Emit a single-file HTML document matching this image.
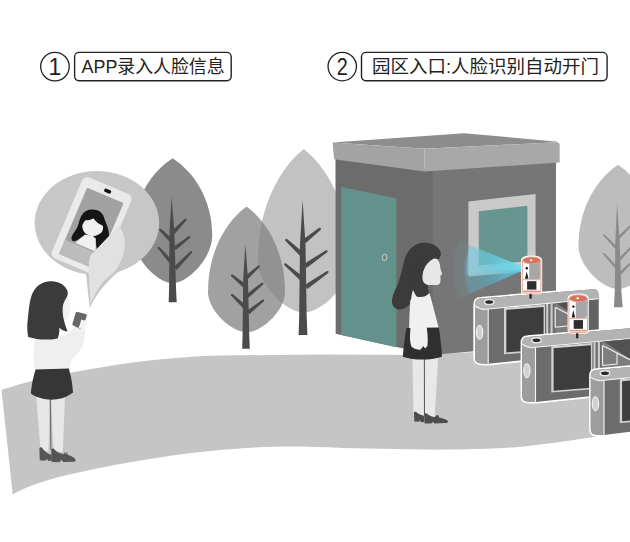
<!DOCTYPE html>
<html lang="zh-CN">
<head>
<meta charset="utf-8">
<title>人脸识别入园流程</title>
<style>
html,body{margin:0;padding:0;background:#fff;}
body{width:630px;height:542px;overflow:hidden;font-family:"Liberation Sans",sans-serif;}
svg{display:block;}
</style>
</head>
<body>
<svg width="630" height="542" viewBox="0 0 630 542" role="img" aria-label="1 APP录入人脸信息; 2 园区入口:人脸识别自动开门"><title>① APP录入人脸信息 ② 园区入口:人脸识别自动开门</title><defs>
 <radialGradient id="cg1" gradientUnits="userSpaceOnUse" cx="527.2" cy="268.5" r="74">
  <stop offset="0" stop-color="#58c4dc" stop-opacity="0.7"/><stop offset="0.55" stop-color="#5cb4cc" stop-opacity="0.2"/><stop offset="1" stop-color="#7ab4c4" stop-opacity="0.1"/>
 </radialGradient>
 <radialGradient id="cg2" gradientUnits="userSpaceOnUse" cx="527.2" cy="268.5" r="63">
  <stop offset="0" stop-color="#5cd0e4" stop-opacity="0.8"/><stop offset="0.6" stop-color="#54b8d4" stop-opacity="0.4"/><stop offset="1" stop-color="#5cb0cc" stop-opacity="0.3"/>
 </radialGradient>
 <radialGradient id="cg3" gradientUnits="userSpaceOnUse" cx="527.2" cy="268.5" r="61">
  <stop offset="0" stop-color="#7ae0f0" stop-opacity="0.9"/><stop offset="0.6" stop-color="#6cd0e4" stop-opacity="0.5"/><stop offset="1" stop-color="#8cd8e8" stop-opacity="0.35"/>
 </radialGradient>
</defs>
<g id="road"><path d="M1.5,390 C30,380 72,371 133,362.4 C165,358.2 192,356.2 222,355.4 L320,354.6 L420,355 L475,352 L630,346 L630,430.6 C605,435 578,439.8 553,443 C525,446.6 505,448.4 487,448.8 C460,449.6 440,449.8 420,449.5 L343,448 C320,447 300,446.4 277,446.7 C255,447.2 235,448.4 210,451 C185,453.6 160,457 133,461.7 C110,465.6 88,470 67,475 C48,479.6 30,485 12.7,494.5 Z" fill="#c5c5c5"/></g>
<g id="trees"><path d="M172.6,158.3C193.2,171.5 212.2,198.7 212.2,236.0C212.2,257.6 188.4,283.0 172.6,283.0C156.8,283.0 133.0,257.6 133.0,236.0C133.0,198.7 152.0,171.5 172.6,158.3Z" fill="#8b8b8b"/><path d="M171.6,197.0L174.4,231.7L176.0,287.6L176.7,302.3L168.7,302.3L169.1,287.6L169.5,231.7Z" fill="#4b4b4b"/><path d="M175.1,233.4L186.4,220.3L186.4,218.6L184.8,218.7L172.1,230.6Z" fill="#4b4b4b"/><path d="M175.9,250.1L190.2,237.7L190.4,236.1L188.8,235.9L173.3,246.9Z" fill="#4b4b4b"/><path d="M176.7,269.9L192.0,252.8L192.0,251.1L190.4,251.2L173.7,267.1Z" fill="#4b4b4b"/><path d="M172.0,238.6L161.0,228.8L159.4,228.8L159.4,230.4L169.2,241.4Z" fill="#4b4b4b"/><path d="M172.1,260.2L159.4,246.9L157.8,246.7L157.8,248.3L169.1,262.8Z" fill="#4b4b4b"/><path d="M303.8,149.0C327.7,168.0 349.8,207.0 349.8,260.5C349.8,284.5 322.2,312.6 303.8,312.6C285.4,312.6 257.8,284.5 257.8,260.5C257.8,207.0 279.9,168.0 303.8,149.0Z" fill="#c2c2c2"/><path d="M246.5,206.5C266.5,221.0 285.0,251.0 285.0,292.0C285.0,310.5 261.9,332.2 246.5,332.2C231.1,332.2 208.0,310.5 208.0,292.0C208.0,251.0 226.5,221.0 246.5,206.5Z" fill="#838383" fill-opacity="0.76"/><path d="M302.6,200.0L305.5,244.6L306.7,316.1L307.4,335.0L298.6,335.0L299.2,316.1L300.0,244.6Z" fill="#4b4b4b"/><path d="M305.8,243.1L320.8,229.8L320.9,228.0L319.2,227.8L303.0,239.5Z" fill="#4b4b4b"/><path d="M306.5,267.9L327.3,252.2L327.6,250.5L325.9,250.2L303.9,264.1Z" fill="#4b4b4b"/><path d="M307.3,288.9L328.3,273.0L328.6,271.3L326.9,271.0L304.7,285.1Z" fill="#4b4b4b"/><path d="M303.1,252.3L287.1,238.9L285.3,239.0L285.3,240.7L299.9,255.7Z" fill="#4b4b4b"/><path d="M303.0,276.8L285.8,263.3L284.1,263.4L284.2,265.1L300.0,280.2Z" fill="#4b4b4b"/><path d="M245.4,244.5L248.0,278.9L249.2,334.2L249.8,348.8L242.2,348.8L242.6,334.2L243.2,278.9Z" fill="#4b4b4b"/><path d="M248.0,278.9L259.8,267.0L260.0,265.4L258.4,265.4L245.2,275.9Z" fill="#4b4b4b"/><path d="M248.8,297.6L263.1,284.5L263.3,282.8L261.7,282.7L246.2,294.4Z" fill="#4b4b4b"/><path d="M249.3,314.2L263.9,301.2L264.1,299.5L262.5,299.4L246.7,311.0Z" fill="#4b4b4b"/><path d="M245.5,284.0L232.6,274.4L231.0,274.5L231.2,276.2L242.9,287.2Z" fill="#4b4b4b"/><path d="M245.6,304.9L232.7,294.0L231.0,294.0L231.1,295.6L242.8,307.9Z" fill="#4b4b4b"/><path d="M618.0,164.8C638.5,178.6 657.5,207.0 657.5,246.0C657.5,265.8 633.8,289.0 618.0,289.0C602.2,289.0 578.5,265.8 578.5,246.0C578.5,207.0 597.5,178.6 618.0,164.8Z" fill="#bdbdbd"/><path d="M617.0,204.0L619.7,241.2L621.4,291.7L622.7,307.2L613.9,307.2L614.8,291.7L615.3,241.2Z" fill="#8a8a8a"/><path d="M617.3,247.0L604.5,234.5L603.1,234.1L603.3,235.5L615.3,249.0Z" fill="#8a8a8a"/><path d="M617.8,267.0L604.5,253.3L603.1,252.9L603.3,254.3L615.6,269.0Z" fill="#8a8a8a"/><path d="M619.8,238.4L631.6,226.0L631.9,224.6L630.4,224.8L617.8,236.4Z" fill="#8a8a8a"/><path d="M620.7,260.4L631.6,247.7L631.8,246.3L630.4,246.7L618.5,258.4Z" fill="#8a8a8a"/><path d="M620.8,274.8L631.6,263.4L631.9,262.0L630.4,262.2L618.8,272.8Z" fill="#8a8a8a"/></g>
<g id="building">
<g>
 <!-- walls -->
 <path d="M335.5,158 L433.4,170 L433.4,355 L335.7,333.7 Z" fill="#6c6c6c"/>
 <path d="M432.6,170 L556,158 L556,344 L432.6,355 Z" fill="#767676"/>
 <!-- door -->
 <path d="M341.2,186.9 L396.4,198.3 L396.4,347.2 L341.2,335 Z" fill="#63928c"/>
 <ellipse cx="384.6" cy="257.4" rx="2.2" ry="3.1" fill="#6f7f7e" stroke="#a9bebb" stroke-width="1.3"/>
 <!-- window -->
 <path d="M468.4,201.5 L535.6,194 L535.6,270.6 L468.4,276.6 Z" fill="#c9c9c9"/>
 <path d="M478.8,211.2 L527.4,205.8 L527.4,261.2 L478.8,265.6 Z" fill="#67958f"/>
 <!-- roof -->
 <path d="M332.6,142.5 L464,133.2 L555.5,141.4 Q558.6,141.8 556.6,142.3 L424.4,148.8 Z" fill="#8d8d8d"/>
 <path d="M332.6,142.5 L424.4,148.8 L424.4,171.4 L334.1,159.3 Z" fill="#a3a3a3"/>
 <path d="M424.4,148.8 L556.6,142.2 Q559.7,142.1 559.7,145.2 L559.7,162.5 L424.4,171.4 Z" fill="#a8a8a8"/>
</g></g>
<g id="bubble">
<g>
 <ellipse cx="96.9" cy="223" rx="62.2" ry="52" fill="#c7c7c7"/>
 <path d="M85.4,268 L89.7,308.2 C95,296.5 103.5,284 119.5,271 Z" fill="#c7c7c7"/>
 <!-- phone -->
 <g transform="translate(84.3,175.3) rotate(23)">
  <rect x="0" y="0" width="53.2" height="88" rx="5.5" fill="#eaeaea"/>
  <rect x="7.4" y="10.2" width="39.6" height="72" rx="1.5" fill="#a2a2a2"/>
  <rect x="24" y="3.6" width="7.4" height="3.6" rx="1.8" fill="#111"/>
 </g>
 <!-- avatar: upright in world space -->
 <path d="M92.4,209.6 C98.6,209.6 102.4,212.6 103.8,217 C105.4,222 107.6,226 108.4,230 C109.3,235 109.5,240 109.1,244 C108.7,247.7 107.3,249.7 105,249.9 L97,249.7 C96.4,246 95.8,243 95.2,240 L82.3,236.4 C79.6,238.6 76.6,240.8 74,241.3 C72,241.1 71.1,239.4 71.6,237 C73,233 76.4,230 77.7,226.6 C79,222.6 79.6,218.6 81.6,215.4 C84,211.4 87.6,209.6 92.4,209.6 Z" fill="#151515"/>
 <path d="M85,234.6 L75.4,243 L95.6,251.6 L95.8,238.6 L92.6,236 Z" fill="#f0f0f0"/>
 <path d="M82.3,225.6 C83,222.6 84.4,221 86,219.9 C88.4,220.6 91.4,219.8 93.4,218.3 C95.6,221.6 99,224.4 102.6,225.4 C103.2,226.6 103.2,227.8 103,229 C102.6,231.4 101.4,232.8 99.8,233.8 C97.4,235.4 95,236.2 92.8,236.2 C90.4,236.2 88,235.2 86,233.7 C84.2,232.4 83.2,230.8 82.8,229 C82.4,227.8 82.2,226.8 82.3,225.6 Z" fill="#f0f0f0"/>
 <!-- lighter lower band of the screen, clips the avatar -->
 <g transform="translate(84.3,175.3) rotate(23)">
  <path d="M7.4,66.8 L47,66.8 L47,80.7 Q47,82.2 45.5,82.2 L8.9,82.2 Q7.4,82.2 7.4,80.7 Z" fill="#bcbcbc"/>
 </g>
 <!-- arm + tail -->
 <path d="M90.5,304.2 C90.2,294 89.4,283 88.9,272 C88.6,265 89,259.6 90.4,255.4 L119,225.6 C123.4,231.6 125.6,239.6 124.6,248 C123.6,256.4 120.6,263.6 115.4,270.4 C112,274.6 106.6,277.6 103.6,281 C98.6,287.4 94,295.6 90.5,304.2 Z" fill="#e1e1e1"/>
</g></g>
<g id="girl1">
<g>
 <!-- legs -->
 <path d="M36.3,397 L49.6,397 L48.6,451 L40.6,451 Z" fill="#e7e7e7"/>
 <path d="M51,397 L65,397 L62.8,452 L53.6,452 Z" fill="#e7e7e7"/>
 <path d="M50.3,398 L50.9,450" stroke="#666" stroke-width="1"/>
 <!-- shoes -->
 <path d="M39.4,448.6 C39.8,447.2 41.2,447 42,447.8 C44,450.5 46.5,453 49,454 L51.6,455 L51.8,460.6 L48,460.9 L47.6,459.4 L45.8,459.4 L45.6,460.7 L39.7,460.3 Z" fill="#555"/>
 <path d="M51.2,450 C51.6,448.6 53,448.2 54,449 C56.5,451.8 60,453.6 63.5,454.2 C64,452.6 65.4,451.8 66.4,452.2 C67.6,452.8 67.8,454 67.4,454.8 C70.6,455.6 73.6,457 75,458.8 C76,460.2 75.6,461.6 74.4,461.8 L63,462 L62.6,460.6 L60.2,460.6 L60,462.2 L51.6,462 Z" fill="#555"/>
 <circle cx="65.8" cy="453" r="0.8" fill="#ddd"/>
 <!-- shirt -->
 <path d="M35,339.5 C40,336.5 50,335 57,336.5 C62,337.5 66,336 69,332 L76.5,325.5 L85.4,327.6 C85.2,333 84.2,340 82.4,346.6 C80.6,351.4 76,354.6 72.8,358 C70.6,361 69.5,365 69.3,370.8 L34.8,371.6 C33.4,361 32.6,350 35,339.5 Z" fill="#efefef"/>
 <!-- skirt -->
 <path d="M35.6,369.6 L68.8,368.6 C71,376 72.4,384 73,392.6 C66,398 58,399.8 51.6,399.8 C44,399.8 36.6,397.6 30.8,393.6 C31.6,385 33.2,377 35.6,369.6 Z" fill="#363636"/>
 <!-- face -->
 <path d="M61,292 C66,292 69.4,296 69.8,302 C70.2,306 71,309 70.4,312 C69.6,316.5 66.6,320.4 62.6,322 L60,310 Z" fill="#f2f2f2"/>
 <!-- hair -->
 <path d="M49.5,281.2 C57,281 63.6,283.6 66.6,289 C68.6,292.4 68,295.4 66,298.4 C63.6,302 62.4,306 62.6,311 C62.8,318 65,325 67.6,331.4 C64.6,331.6 61.6,330.2 59.4,327.6 C59.6,332 59,335.6 57.6,338.4 C48,340.4 37,339.8 28.2,337 C27,331 27,325 27.8,319 C28.8,310 29.2,302 31.6,295.4 C34.6,287 41.4,281.6 49.5,281.2 Z" fill="#3b3b3b"/>
 <!-- hand+phone -->
 <path d="M74.6,324.6 L81.6,327.8 L84.2,330.2 L80,335 L73.6,331.6 Z" fill="#f0f0f0"/>
 <path d="M77.6,311.9 L85.6,314.1 C86.6,314.4 87,315.2 86.7,316.1 L82.6,328 C82.3,328.9 81.4,329.3 80.5,329 L73.3,325.6 C72.5,325.2 72.2,324.4 72.5,323.6 L75.6,313 C75.9,312.1 76.7,311.7 77.6,311.9 Z" fill="#676767"/>
 <path d="M81.2,319.4 L87.4,321.2 L84.4,330 L78.6,328 L80.2,323.4 Z" fill="#f3f3f3"/>
</g></g>
<g id="girl2">
<g>
 <!-- legs -->
 <path d="M412.4,356 L423.9,356 L423.8,416 L413.6,416 Z" fill="#e8e8e8"/>
 <path d="M424.9,356 L438.2,356 L436,395 L434.6,417.6 L425,417.6 Z" fill="#e8e8e8"/>
 <path d="M424.4,357 L424.5,415" stroke="#5a5a5a" stroke-width="1"/>
 <!-- shoes -->
 <path d="M413.9,412.6 C414.2,411.6 415.4,411.4 416.2,412 C418.6,414.2 421.4,415.4 424.1,415.8 L424.4,421.9 L420.8,422.2 L420.4,420.6 L419.4,420.6 L419.2,421.8 L414.4,421.5 Z" fill="#4d4d4d"/>
 <path d="M424.2,414.2 C424.6,413.2 425.8,413 426.6,413.6 C429,415.6 432,416.8 435,417.2 C435.4,415.6 436.8,414.6 437.8,415 C439,415.6 439.2,416.8 438.8,417.6 C442,418.2 445.6,419.4 447.4,420.6 C448.4,421.6 448,422.8 446.8,423 L434,423.4 L433.6,422.2 L431.8,422.2 L431.6,423.6 L424.6,423.4 Z" fill="#4d4d4d"/>
 <!-- hair back -->
 <path d="M423.6,242.7 C431,242.4 437.4,245.4 440,250.6 C441.4,253.6 441,256 439.4,258.4 L430,262 L424.6,275 L428.6,292 C426,296 421,297.6 416.6,296.4 L412,300 C410.6,304.6 405,309.4 399.6,309.4 C394.6,309.4 391.6,305.6 392,300.4 C392.6,293.6 396.6,288 399,281 C401.6,273.6 402.6,264.6 405.6,256.6 C408.8,248.4 415.6,243 423.6,242.7 Z" fill="#3b3b3b"/>
 <!-- face -->
 <path d="M431.5,259.6 C434,258 436.4,258 437.6,259.6 C439,261.4 439.6,263.4 439.9,264.8 C440.2,266.6 440.4,268.4 440.8,269.9 C441.2,271.4 442.2,272.8 442.1,273.8 C442,274.8 440.4,275.2 440.3,276.3 C440.3,277.4 440.8,278.6 440.6,279.8 C440.4,281.6 440.2,283 439.3,283.9 C438.4,284.8 437,285.1 436,285.1 L428.3,284.9 L428.6,290 L423,290 C421.6,284 421.4,278 422.5,273.8 C423.4,268 426.6,262.6 431.5,259.6 Z" fill="#e7e7e7"/>
 <!-- shirt -->
 <path d="M415.6,285.6 C419,291 424,293.6 429.6,293.4 C431.4,299 433.6,308 435.6,316 C436.8,320.6 438,324.6 438.8,328.6 L409,329.6 C409.4,318 410,307 411.4,297 C412,292.4 413.4,288.4 415.6,285.6 Z" fill="#f0f0f0"/>
 <!-- skirt -->
 <path d="M406.4,328 L438.8,327.4 C440.4,337 441.4,346.6 442,356.8 C436,358.8 428.6,359.6 422.4,359.6 C415.6,359.6 408.8,358.8 402.8,356.8 C403.6,346.6 404.8,337 406.4,328 Z" fill="#2f2f2f"/>
 <!-- arm/hand -->
 <path d="M410.4,300 C413,297 418,297 420.6,300 C423.6,309 425.6,319 427,329.6 C427.8,335.6 428,341 427.4,346 L425,348.6 L423.4,346 L420.6,349.4 C417.6,350.2 414,349.2 411.4,346.6 C409.8,342 409.6,336 410.4,330 C409.6,320 409.4,309 410.4,300 Z" fill="#f0f0f0"/>
 <!-- hair front strand -->
 <path d="M433,259 C428,261.6 424,267 422.6,273.8 C422,278 422.6,281 423.8,282.4 C425,284 427,284.9 428.4,284.9 L428.8,293.4 C426,296.6 421,297.8 416.6,296.4 C412,290 410.4,282 411.6,274 C413,266 422,257.6 433,259 Z" fill="#3b3b3b"/>
</g></g>
<g id="cone">
<g>
 <path d="M527.2,268.5 L458.8,240.3 A74,74 0 0 0 459.7,298.8 Z" fill="url(#cg1)"/>
 <path d="M527.2,268.5 L469,245.4 A63,63 0 0 0 469.6,293.6 Z" fill="url(#cg2)"/>
 <path d="M527.2,268.5 L470.6,245.6 A61,61 0 0 0 466.6,274.8 Z" fill="url(#cg3)"/>
</g></g>
<g id="gates"><path d="M480.5,298.6 L593.0,289.3 Q598.5,289.0 598.5,294.5 L598.5,352.0 L488.2,363.8 L479.5,363.2 Q475.0,362.6 475.0,357.6 L475.0,304.6 Q475.0,298.6 480.5,298.6Z" fill="#6c6c6c" stroke="#fff" stroke-width="3.4" stroke-linejoin="round"/><path d="M480.5,298.6 L593.0,289.3 Q598.5,289.0 598.5,294.5 L598.5,352.0 L488.2,363.8 L479.5,363.2 Q475.0,362.6 475.0,357.6 L475.0,304.6 Q475.0,298.6 480.5,298.6Z" fill="#6c6c6c"/><path d="M588.0,299.5 L598.5,298.8 L598.5,352.0 L588.0,353.1Z" fill="#626262"/><path d="M480.5,298.6 L593.0,289.3 Q598.5,289.0 598.5,294.5 L598.5,298.8 L488.2,309.0 Q481.2,310.6 475.0,305.8 L475.0,304.6 Q475.0,298.6 480.5,298.6Z" fill="#b3b3b3"/><path d="M475.0,305.8 Q481.2,310.6 488.2,309.0 L488.2,363.8 L479.5,363.2 Q475.0,362.6 475.0,357.6Z" fill="#9d9d9d"/><path d="M475.0,305.8 Q481.2,310.6 488.2,309.0 L598.5,298.8" fill="none" stroke="#f4f4f4" stroke-width="1.1"/><path d="M488.2,309.0 L488.2,363.8" fill="none" stroke="#f4f4f4" stroke-width="1.1"/><ellipse cx="489.2" cy="301.9" rx="4.7" ry="2.5" fill="#2a2a2a" stroke="#e4e4e4" stroke-width="1.5"/><ellipse cx="479.6" cy="332.4" rx="3.1" ry="6.9" fill="#d0d0d0" stroke="#f6f6f6" stroke-width="1.1"/><path d="M504.0,307.9 L545.0,304.7 L545.0,351.1 L504.0,354.3Z" fill="#d2d2d2"/><path d="M506.3,309.9 L543.6,307.0 L543.6,349.5 L506.3,352.4Z" fill="#3d3d3d"/><path d="M547.2,303.9 L547.2,351.4" stroke="#cdcdcd" stroke-width="2.1"/><path d="M551.6,303.5 L551.6,351.0" stroke="#cdcdcd" stroke-width="2.1"/><path d="M555.2,303.3 L588.0,300.7 L588.0,335.7 L555.2,338.3Z" fill="#7d7d7d"/><path d="M556.7,303.3 L588.0,300.7 L588.0,325.3Z" fill="#525252"/><path d="M555.2,307.3 L555.2,327.3" stroke="#efefef" stroke-width="1.2"/><path d="M555.2,307.3 L588.0,324.3" stroke="#efefef" stroke-width="1.2"/><path d="M569.7,314.8 L569.7,325.8 L555.2,327.3" fill="none" stroke="#efefef" stroke-width="1.1"/><g><path d="M522.3,260.3 C522.3,258.3 526.3,256.8 531.6,256.8 C536.9,256.8 540.9,258.3 540.9,260.3 L540.9,291.0 Q540.9,293.0 538.9,293.0 L524.3,293.0 Q522.3,293.0 522.3,291.0Z" fill="#fff" stroke="#fff" stroke-width="2.6" stroke-linejoin="round"/><path d="M529.2,261.6 L540.3,260.6 L540.3,277.5 Q540.1,279.1 537.9,279.2 L529.2,279.2Z" fill="#a7a7a7"/><ellipse cx="531.6" cy="260.4" rx="8.9" ry="3.36" fill="#d7725f" stroke="#e9a08f" stroke-width="0.9"/><ellipse cx="531.1" cy="260.3" rx="1.35" ry="1.0" fill="#fff"/><path d="M522.3,260.3 L522.3,291.0 Q522.3,293.0 524.3,293.0 L538.9,293.0 Q540.9,293.0 540.9,291.0 L540.9,260.3" fill="none" stroke="#e9a08f" stroke-width="1"/><path d="M522.3,279.7 L540.9,279.7" stroke="#e9a08f" stroke-width="0.9"/><path d="M523.3,291.3 L539.9,291.3" stroke="#e39684" stroke-width="1.5"/><circle cx="526.8" cy="268.2" r="1.2" fill="#111"/><path d="M526.7,271.5 L528.5,278.7 L525.0,278.7Z" fill="#1e1e1e"/><rect x="527.1" y="281.2" width="9.3" height="8.4" fill="#2e2e2e"/><path d="M530.6,293.9 L530.6,298.7" stroke="#262626" stroke-width="2.3"/></g><path d="M527.8,336.9 L648.3,326.8 Q653.8,326.5 653.8,332.0 L653.8,389.5 L535.5,402.1 L526.8,401.5 Q522.3,400.9 522.3,395.9 L522.3,342.9 Q522.3,336.9 527.8,336.9Z" fill="#6c6c6c" stroke="#fff" stroke-width="3.4" stroke-linejoin="round"/><path d="M527.8,336.9 L648.3,326.8 Q653.8,326.5 653.8,332.0 L653.8,389.5 L535.5,402.1 L526.8,401.5 Q522.3,400.9 522.3,395.9 L522.3,342.9 Q522.3,336.9 527.8,336.9Z" fill="#6c6c6c"/><path d="M527.8,336.9 L648.3,326.8 Q653.8,326.5 653.8,332.0 L653.8,336.3 L535.5,347.3 Q528.5,348.9 522.3,344.1 L522.3,342.9 Q522.3,336.9 527.8,336.9Z" fill="#b3b3b3"/><path d="M522.3,344.1 Q528.5,348.9 535.5,347.3 L535.5,402.1 L526.8,401.5 Q522.3,400.9 522.3,395.9Z" fill="#9d9d9d"/><path d="M522.3,344.1 Q528.5,348.9 535.5,347.3 L653.8,336.3" fill="none" stroke="#f4f4f4" stroke-width="1.1"/><path d="M535.5,347.3 L535.5,402.1" fill="none" stroke="#f4f4f4" stroke-width="1.1"/><ellipse cx="536.5" cy="340.2" rx="4.7" ry="2.5" fill="#2a2a2a" stroke="#e4e4e4" stroke-width="1.5"/><ellipse cx="526.9" cy="370.7" rx="3.1" ry="6.9" fill="#d0d0d0" stroke="#f6f6f6" stroke-width="1.1"/><path d="M551.3,346.2 L592.3,342.9 L592.3,389.3 L551.3,392.6Z" fill="#d2d2d2"/><path d="M553.6,348.2 L590.9,345.2 L590.9,387.7 L553.6,390.7Z" fill="#3d3d3d"/><path d="M594.5,342.1 L594.5,389.6" stroke="#cdcdcd" stroke-width="2.1"/><path d="M598.9,341.8 L598.9,389.3" stroke="#cdcdcd" stroke-width="2.1"/><path d="M602.5,341.5 L640.3,338.5 L640.3,373.5 L602.5,376.5Z" fill="#7d7d7d"/><path d="M604.0,341.5 L640.3,338.5 L640.3,366.1Z" fill="#525252"/><path d="M602.5,345.5 L602.5,365.5" stroke="#efefef" stroke-width="1.2"/><path d="M602.5,345.5 L640.3,365.1" stroke="#efefef" stroke-width="1.2"/><path d="M617.0,353.0 L617.0,364.0 L602.5,365.5" fill="none" stroke="#efefef" stroke-width="1.1"/><g><path d="M568.9,298.3 C568.9,296.3 572.9,294.7 578.2,294.7 C583.5,294.7 587.5,296.3 587.5,298.3 L587.5,330.3 Q587.5,332.4 585.5,332.4 L570.9,332.4 Q568.9,332.4 568.9,330.3Z" fill="#fff" stroke="#fff" stroke-width="2.6" stroke-linejoin="round"/><path d="M575.8,299.7 L586.9,298.7 L586.9,316.3 Q586.7,317.9 584.5,318.0 L575.8,318.0Z" fill="#a7a7a7"/><ellipse cx="578.2" cy="298.4" rx="8.9" ry="3.50" fill="#d7725f" stroke="#e9a08f" stroke-width="0.9"/><ellipse cx="577.7" cy="298.3" rx="1.35" ry="1.0" fill="#fff"/><path d="M568.9,298.3 L568.9,330.3 Q568.9,332.4 570.9,332.4 L585.5,332.4 Q587.5,332.4 587.5,330.3 L587.5,298.3" fill="none" stroke="#e9a08f" stroke-width="1"/><path d="M568.9,318.6 L587.5,318.6" stroke="#e9a08f" stroke-width="0.9"/><path d="M569.9,330.6 L586.5,330.6" stroke="#e39684" stroke-width="1.5"/><circle cx="573.4" cy="306.6" r="1.2" fill="#111"/><path d="M573.3,310.0 L575.1,317.5 L571.6,317.5Z" fill="#1e1e1e"/><rect x="573.7" y="320.1" width="9.3" height="8.7" fill="#2e2e2e"/><path d="M577.2,333.3 L577.2,338.3" stroke="#262626" stroke-width="2.3"/></g><path d="M596.3,369.9 L666.8,363.8 Q672.3,363.5 672.3,369.0 L672.3,426.5 L604.0,435.1 L595.3,434.5 Q590.8,433.9 590.8,428.9 L590.8,375.9 Q590.8,369.9 596.3,369.9Z" fill="#6c6c6c" stroke="#fff" stroke-width="3.4" stroke-linejoin="round"/><path d="M596.3,369.9 L666.8,363.8 Q672.3,363.5 672.3,369.0 L672.3,426.5 L604.0,435.1 L595.3,434.5 Q590.8,433.9 590.8,428.9 L590.8,375.9 Q590.8,369.9 596.3,369.9Z" fill="#6c6c6c"/><path d="M596.3,369.9 L666.8,363.8 Q672.3,363.5 672.3,369.0 L672.3,373.3 L604.0,380.3 Q597.0,381.9 590.8,377.1 L590.8,375.9 Q590.8,369.9 596.3,369.9Z" fill="#b3b3b3"/><path d="M590.8,377.1 Q597.0,381.9 604.0,380.3 L604.0,435.1 L595.3,434.5 Q590.8,433.9 590.8,428.9Z" fill="#9d9d9d"/><path d="M590.8,377.1 Q597.0,381.9 604.0,380.3 L672.3,373.3" fill="none" stroke="#f4f4f4" stroke-width="1.1"/><path d="M604.0,380.3 L604.0,435.1" fill="none" stroke="#f4f4f4" stroke-width="1.1"/><ellipse cx="605.0" cy="373.2" rx="4.7" ry="2.5" fill="#2a2a2a" stroke="#e4e4e4" stroke-width="1.5"/><ellipse cx="595.4" cy="403.7" rx="3.1" ry="6.9" fill="#d0d0d0" stroke="#f6f6f6" stroke-width="1.1"/><path d="M619.8,379.2 L660.8,375.9 L660.8,419.8 L619.8,423.1Z" fill="#d2d2d2"/><path d="M622.1,381.2 L659.4,378.2 L659.4,418.2 L622.1,421.2Z" fill="#3d3d3d"/><path d="M663.0,375.1 L663.0,422.6" stroke="#cdcdcd" stroke-width="2.1"/><path d="M667.4,374.8 L667.4,422.3" stroke="#cdcdcd" stroke-width="2.1"/></g>
<g id="labels"><circle cx="54.95" cy="66.6" r="14.3" fill="#fff" stroke="#222" stroke-width="1.3"/><rect x="74.6" y="52.4" width="156.6" height="28.300000000000004" rx="4.4" fill="#fff" stroke="#222" stroke-width="1.4"/><circle cx="342.25" cy="66.6" r="14.2" fill="#fff" stroke="#222" stroke-width="1.3"/><rect x="361.5" y="52.4" width="245.60000000000002" height="28.300000000000004" rx="4.4" fill="#fff" stroke="#222" stroke-width="1.4"/><g font-family="&quot;Liberation Sans&quot;, &quot;Noto Sans CJK SC&quot;, sans-serif" font-size="18" fill="#222"><text x="54.95" y="74.6" font-size="23" text-anchor="middle">1</text><text x="81.6" y="72.9" textLength="143" lengthAdjust="spacingAndGlyphs">APP录入人脸信息</text><text transform="translate(342.25,74.7) scale(0.86,1)" x="0" y="0" font-size="23" text-anchor="middle">2</text><text x="372" y="72.9" textLength="227" lengthAdjust="spacingAndGlyphs">园区入口:人脸识别自动开门</text></g></g>
</svg>
</body>
</html>
